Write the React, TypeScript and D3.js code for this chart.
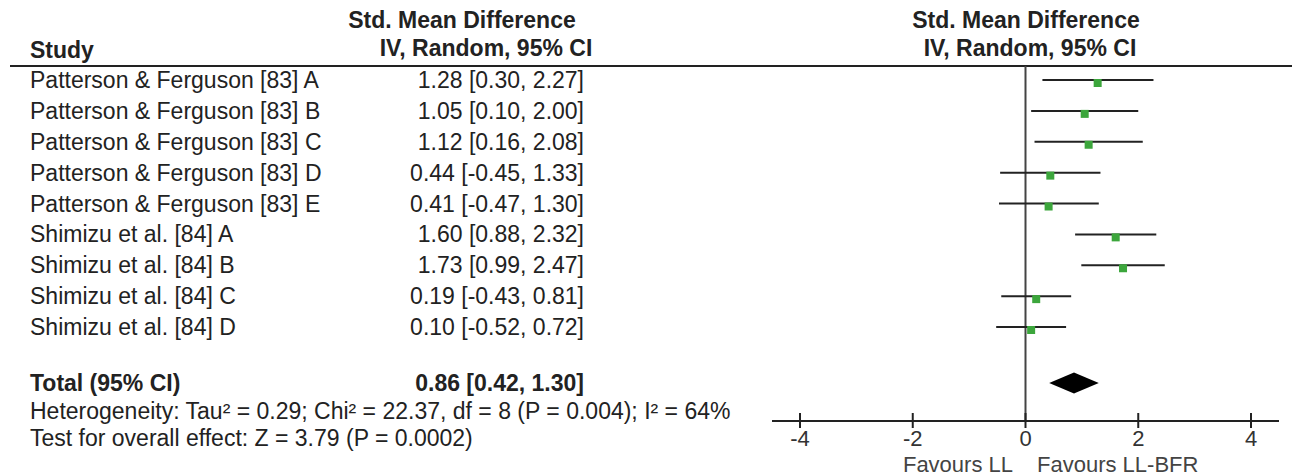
import React from "react";
import * as d3 from "d3";

const studies = [
  "Patterson & Ferguson [83] A",
  "Patterson & Ferguson [83] B",
  "Patterson & Ferguson [83] C",
  "Patterson & Ferguson [83] D",
  "Patterson & Ferguson [83] E",
  "Shimizu et al. [84] A",
  "Shimizu et al. [84] B",
  "Shimizu et al. [84] C",
  "Shimizu et al. [84] D",
];
const est = [1.28, 1.05, 1.12, 0.44, 0.41, 1.6, 1.73, 0.19, 0.1];
const lower = [0.3, 0.1, 0.16, -0.45, -0.47, 0.88, 0.99, -0.43, -0.52];
const upper = [2.27, 2.0, 2.08, 1.33, 1.3, 2.32, 2.47, 0.81, 0.72];
const total = { est: 0.86, lo: 0.42, hi: 1.3 };
const ticks = [-4, -2, 0, 2, 4];
const heterogeneity = "Heterogeneity: Tau² = 0.29; Chi² = 22.37, df = 8 (P = 0.004); I² = 64%";
const overall = "Test for overall effect: Z = 3.79 (P = 0.0002)";

const fmt = (v: number) => v.toFixed(2);

export default function App() {
  const W = 1301, H = 476;
  const x = d3.scaleLinear().domain([-4, 4]).range([800, 1251]);
  const y = d3.scaleLinear().domain([0, 8]).range([80, 327]);
  const font = "'Liberation Sans', Arial, sans-serif";
  const txt = "#222";
  const fs = 23;
  const axisY = 421;
  const totalY = 383;
  const dPath = `M${x(total.lo)},${totalY} L${x(total.est)},${totalY - 10.5} L${x(total.hi)},${totalY} L${x(total.est)},${totalY + 10.5} Z`;
  return (
    <svg width={W} height={H} style={{ position: "absolute", left: 0, top: 0, background: "#fff" }} fontFamily={font}>
      <g fill={txt} fontSize={fs} fontWeight="bold">
        <text x={462} y={28} textAnchor="middle">Std. Mean Difference</text>
        <text x={486} y={56} textAnchor="middle">IV, Random, 95% CI</text>
        <text x={30} y={58}>Study</text>
        <text x={1026} y={28} textAnchor="middle">Std. Mean Difference</text>
        <text x={1030} y={56} textAnchor="middle">IV, Random, 95% CI</text>
      </g>
      <line x1={10} x2={1292} y1={66} y2={66} stroke="#222" strokeWidth={2} />
      <line x1={x(0)} x2={x(0)} y1={66} y2={axisY} stroke="#444" strokeWidth={2} />
      {studies.map((s, i) => (
        <g key={s}>
          <text x={30} y={y(i) + 8} fontSize={fs} fill={txt}>{s}</text>
          <text x={584} y={y(i) + 8} fontSize={fs} fill={txt} textAnchor="end">
            {`${fmt(est[i])} [${fmt(lower[i])}, ${fmt(upper[i])}]`}
          </text>
          <line x1={x(lower[i])} x2={x(upper[i])} y1={y(i)} y2={y(i)} stroke="#222" strokeWidth={2} />
          <rect x={x(est[i]) - 4} y={y(i) - 1} width={8} height={8} fill="#3ca63c" />
        </g>
      ))}
      <text x={30} y={totalY + 8} fontSize={fs} fontWeight="bold" fill={txt}>Total (95% CI)</text>
      <text x={584} y={totalY + 8} fontSize={fs} fontWeight="bold" fill={txt} textAnchor="end">
        {`${fmt(total.est)} [${fmt(total.lo)}, ${fmt(total.hi)}]`}
      </text>
      <path d={dPath} fill="#000" />
      <text x={30} y={419} fontSize={fs} fill={txt}>{heterogeneity}</text>
      <text x={30} y={446} fontSize={fs} fill={txt}>{overall}</text>
      <line x1={772} x2={1279} y1={axisY} y2={axisY} stroke="#222" strokeWidth={2} />
      {ticks.map((t) => (
        <g key={t}>
          <line x1={x(t)} x2={x(t)} y1={axisY - 8} y2={axisY + 7} stroke="#222" strokeWidth={2} />
          <text x={x(t)} y={446} fontSize={22} fill="#333" textAnchor="middle">{t}</text>
        </g>
      ))}
      <text x={1013} y={472} fontSize={22} fill="#444" textAnchor="end">Favours LL</text>
      <text x={1037} y={472} fontSize={22} fill="#444">Favours LL-BFR</text>
    </svg>
  );
}
